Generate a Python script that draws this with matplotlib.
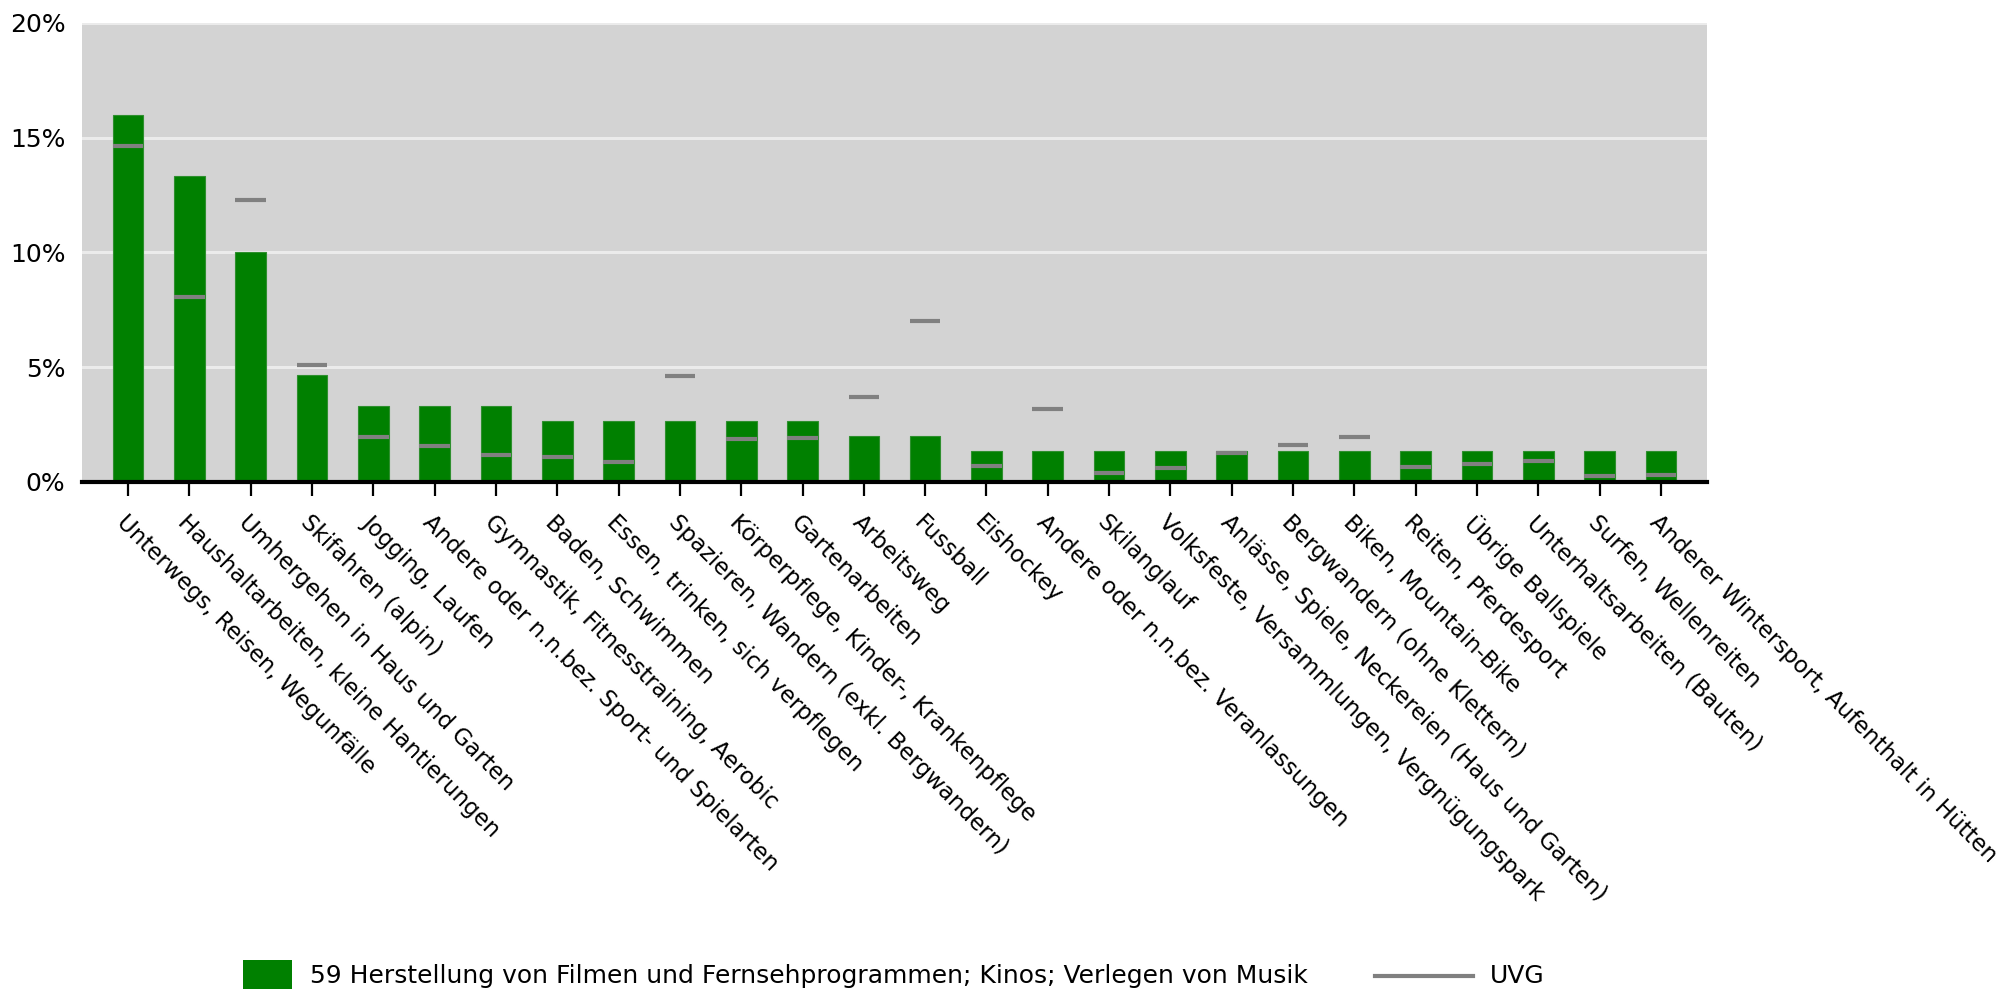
import numpy as np
import matplotlib
matplotlib.use("Agg")
import matplotlib.pyplot as plt
from matplotlib.patches import Rectangle
from matplotlib.lines import Line2D

categories = [
    "Unterwegs, Reisen, Wegunfälle",
    "Haushaltarbeiten, kleine Hantierungen",
    "Umhergehen in Haus und Garten",
    "Skifahren (alpin)",
    "Jogging, Laufen",
    "Andere oder n.n.bez. Sport- und Spielarten",
    "Gymnastik, Fitnesstraining, Aerobic",
    "Baden, Schwimmen",
    "Essen, trinken, sich verpflegen",
    "Spazieren, Wandern (exkl. Bergwandern)",
    "Körperpflege, Kinder-, Krankenpflege",
    "Gartenarbeiten",
    "Arbeitsweg",
    "Fussball",
    "Eishockey",
    "Andere oder n.n.bez. Veranlassungen",
    "Skilanglauf",
    "Volksfeste, Versammlungen, Vergnügungspark",
    "Anlässe, Spiele, Neckereien (Haus und Garten)",
    "Bergwandern (ohne Klettern)",
    "Biken, Mountain-Bike",
    "Reiten, Pferdesport",
    "Übrige Ballspiele",
    "Unterhaltsarbeiten (Bauten)",
    "Surfen, Wellenreiten",
    "Anderer Wintersport, Aufenthalt in Hütten",
]

# share in % for branch 59
branch = [16.0, 13.33, 10.0, 4.67, 3.33, 3.33, 3.33, 2.67, 2.67, 2.67, 2.67, 2.67,
          2.0, 2.0, 1.33, 1.33, 1.33, 1.33, 1.33, 1.33, 1.33, 1.33, 1.33, 1.33, 1.33, 1.33]
# UVG overall
uvg = [14.65, 8.07, 12.27, 5.11, 1.94, 1.55, 1.16, 1.11, 0.88, 4.62, 1.88, 1.93,
       3.69, 7.0, 0.71, 3.19, 0.38, 0.61, 1.27, 1.61, 1.96, 0.66, 0.77, 0.9, 0.26, 0.31]

yticks = [0, 5, 10, 15, 20]
legend_branch = "59 Herstellung von Filmen und Fernsehprogrammen; Kinos; Verlegen von Musik"
legend_uvg = "UVG"

green = "#008000"
grey = "#808080"
fs = 18

fig = plt.figure(figsize=(20.05, 9.92), dpi=100)
ax = fig.add_axes([82 / 2005, 1 - 482 / 992, (1707 - 82) / 2005, (482 - 23) / 992])
ax.set_facecolor("#d3d3d3")

x = np.arange(len(categories))
w = 0.5
ax.bar(x, branch, width=w, color=green, edgecolor="#2e8f2e", linewidth=0.8, zorder=3)
ax.hlines(uvg, x - w / 2, x + w / 2, colors=grey, linewidth=3, zorder=4)

ax.set_xlim(-0.75, len(categories) - 0.25)
ax.set_ylim(0, 20)
ax.set_yticks(yticks)
ax.set_yticklabels([f"{v}%" for v in yticks])
ax.yaxis.grid(True, color="#ebebeb", linewidth=2.2, zorder=1)
ax.set_axisbelow(True)

for s in ["top", "right", "left"]:
    ax.spines[s].set_visible(False)
ax.spines["bottom"].set_linewidth(3)
ax.spines["bottom"].set_color("black")
ax.spines["bottom"].set_zorder(5)

ax.tick_params(axis="y", length=0, labelsize=fs, pad=12)
ax.tick_params(axis="x", length=10, width=1.6, direction="out", labelsize=16.5, pad=11)
ax.set_xticks(x)
ax.set_xticklabels(categories, rotation=-45, ha="left", va="top", rotation_mode="anchor")

# legend
fig.add_artist(Rectangle((243 / 2005, 1 - 989 / 992), 49 / 2005, 29 / 992,
                         transform=fig.transFigure, facecolor=green, edgecolor="none"))
fig.text(310 / 2005, 1 - 976 / 992, legend_branch, fontsize=fs, va="center", ha="left")
fig.add_artist(Line2D([1375 / 2005, 1473 / 2005], [1 - 976 / 992, 1 - 976 / 992],
                      transform=fig.transFigure, color=grey, linewidth=3))
fig.text(1490 / 2005, 1 - 976 / 992, legend_uvg, fontsize=fs, va="center", ha="left")

fig.savefig("out.png", dpi=100)
